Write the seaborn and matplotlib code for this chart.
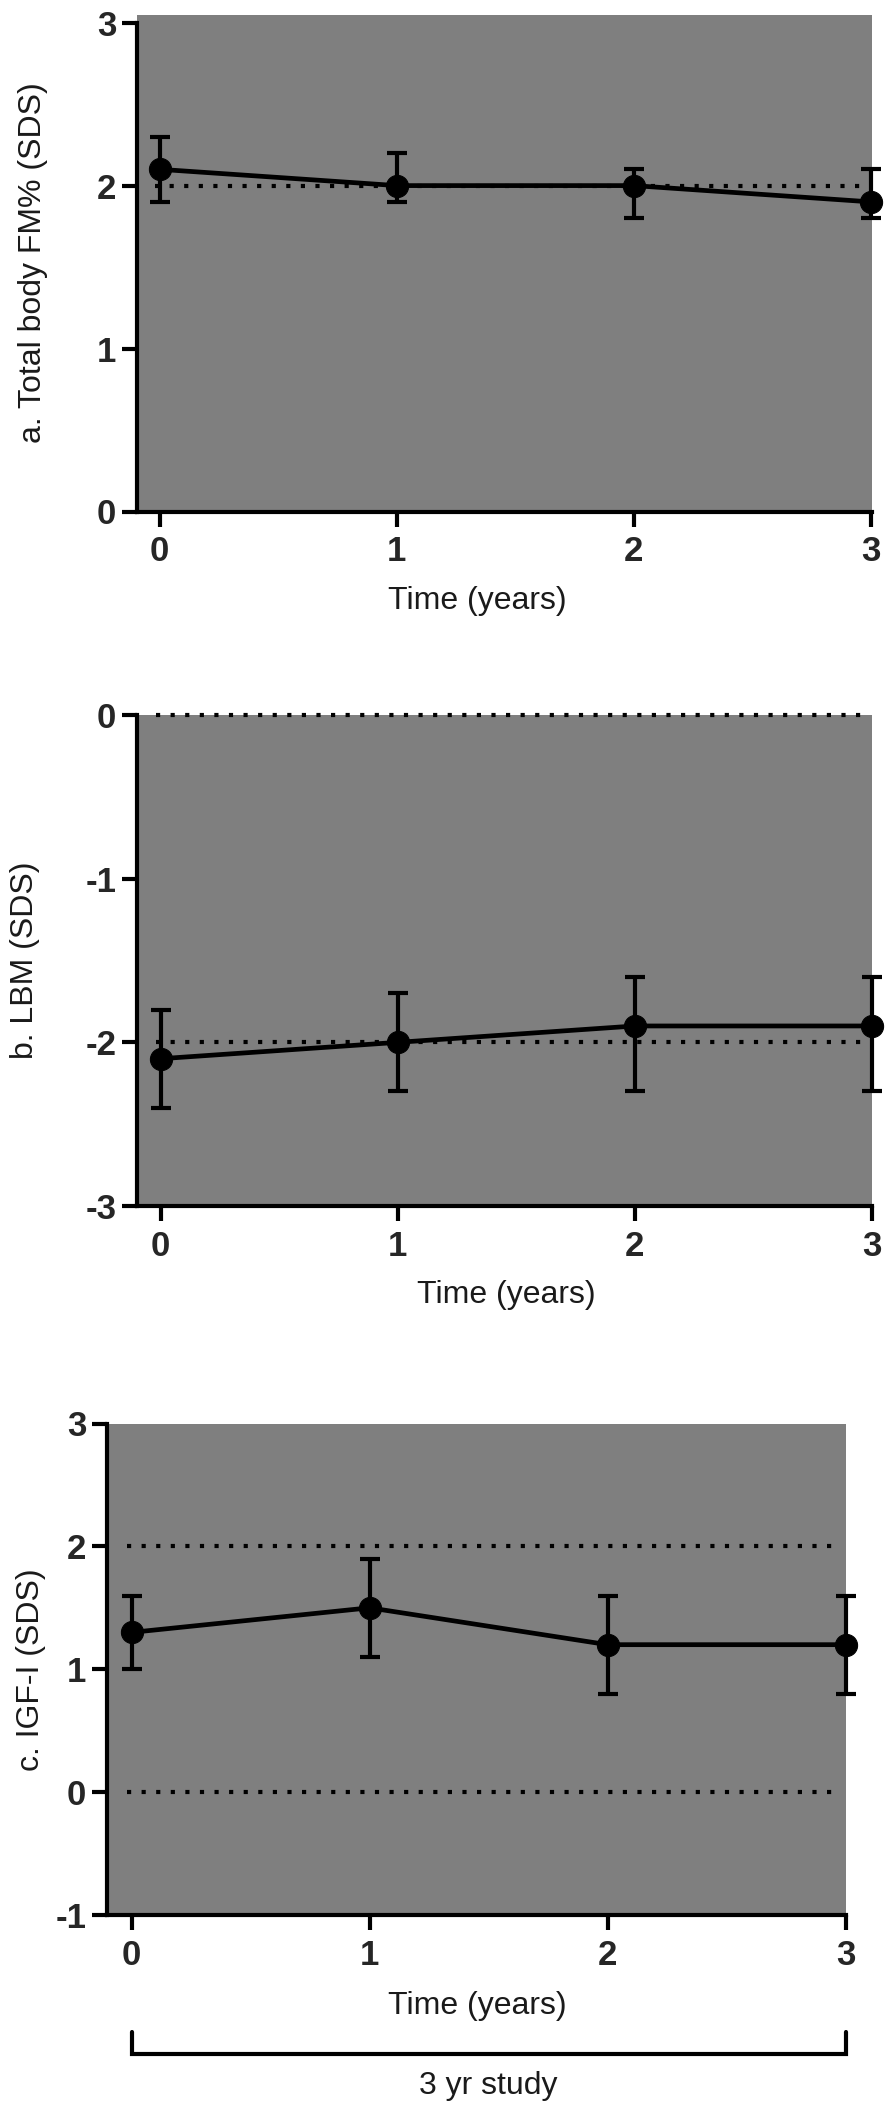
import numpy as np
import pandas as pd
import matplotlib
matplotlib.use("Agg")
import matplotlib.pyplot as plt
import matplotlib.transforms as mtransforms
import seaborn as sns

# data (mean with lower / upper error)
years = [0, 1, 2, 3]

fm_mean = [2.1, 2.0, 2.0, 1.9]
fm_low = [1.9, 1.9, 1.8, 1.8]
fm_high = [2.3, 2.2, 2.1, 2.1]

lbm_mean = [-2.1, -2.0, -1.9, -1.9]
lbm_low = [-2.4, -2.3, -2.3, -2.3]
lbm_high = [-1.8, -1.7, -1.6, -1.6]

igf_mean = [1.3, 1.5, 1.2, 1.2]
igf_low = [1.0, 1.1, 0.8, 0.8]
igf_high = [1.6, 1.9, 1.6, 1.6]

ref_a = [2]
ref_b = [0, -2]
ref_c = [2, 0]

sns.set_theme(style="ticks")
plt.rcParams["font.family"] = ["Liberation Sans", "DejaVu Sans"]

BG = "#7f7f7f"
LW = 3.0
TICK_FS = 25
LABEL_FS = 23


def draw_panel(ax, mean, low, high, refs, ylabel, yticks, ylim, xlim):
    df = pd.DataFrame({"Time": years, "Value": mean})
    ax.set_facecolor(BG)
    for r in refs:
        ax.hlines(r, -0.02, 2.98, colors="black", linestyles=(0, (1, 2.5)),
                  linewidth=3.0, zorder=2, clip_on=False)
    yerr = [np.array(mean) - np.array(low), np.array(high) - np.array(mean)]
    ax.errorbar(years, mean, yerr=yerr, fmt="none", ecolor="black",
                elinewidth=LW, capsize=7, capthick=LW, zorder=3, clip_on=False)
    sns.lineplot(data=df, x="Time", y="Value", ax=ax, color="black",
                 linewidth=3.4, marker="o", markersize=16, markeredgecolor="black",
                 zorder=4, clip_on=False)
    ax.set_xlim(*xlim)
    ax.set_ylim(*ylim)
    ax.set_xticks(years)
    ax.set_yticks(yticks)
    ax.set_yticklabels([str(t) for t in yticks])
    for s in ["top", "right"]:
        ax.spines[s].set_visible(False)
    for s in ["left", "bottom"]:
        ax.spines[s].set_linewidth(LW)
        ax.spines[s].set_color("black")
        ax.spines[s].set_zorder(5)
    ax.spines["left"].set_bounds(yticks[0], yticks[-1])
    ax.tick_params(axis="both", direction="out", length=11, width=LW,
                   color="black", labelsize=TICK_FS)
    ax.tick_params(axis="x", pad=6)
    ax.tick_params(axis="y", pad=4)
    for lab in ax.get_xticklabels() + ax.get_yticklabels():
        lab.set_fontweight("bold")
    ax.set_xlabel("Time (years)", fontsize=LABEL_FS, color="#1a1a1a")
    ax.set_ylabel(ylabel, fontsize=LABEL_FS, color="#1a1a1a")
    ax.grid(False)


fig = plt.figure(figsize=(8.94, 21.08), dpi=100)
W, H = 894, 2108


def add_axes(left_px, right_px, top_px, bottom_px):
    return fig.add_axes([left_px / W, 1 - bottom_px / H,
                         (right_px - left_px) / W, (bottom_px - top_px) / H])


# panel a
ax_a = add_axes(137, 872, 14.5, 511.5)
draw_panel(ax_a, fm_mean, fm_low, fm_high, ref_a, "a. Total body FM% (SDS)",
           [0, 1, 2, 3], (0, 3.05), (-0.095, 3.004))
ax_a.xaxis.set_label_coords(0.4626, -0.150)
ax_a.yaxis.set_label_coords(-0.121, 0.5)

# panel b
ax_b = add_axes(137, 872, 715, 1206)
draw_panel(ax_b, lbm_mean, lbm_low, lbm_high, ref_b, "b. LBM (SDS)",
           [-3, -2, -1, 0], (-3, 0), (-0.1, 3.0))
ax_b.xaxis.set_label_coords(0.502, -0.151)
ax_b.yaxis.set_label_coords(-0.132, 0.5)

# panel c
ax_c = add_axes(107, 845.5, 1423.5, 1915)
draw_panel(ax_c, igf_mean, igf_low, igf_high, ref_c, "c. IGF-I (SDS)",
           [-1, 0, 1, 2, 3], (-1, 3), (-0.103, 3.0))
ax_c.xaxis.set_label_coords(0.501, -0.155)
ax_c.yaxis.set_label_coords(-0.083, 0.5)

# bracket marking the study period under panel c
trans = mtransforms.blended_transform_factory(ax_c.transData, ax_c.transAxes)
ax_c.plot([years[0], years[0], years[-1], years[-1]], [-0.238, -0.283, -0.283, -0.238],
          color="black", linewidth=LW, transform=trans, clip_on=False,
          solid_joinstyle="miter")
ax_c.text(np.mean([years[0], years[-1]]), -0.348, "3 yr study", transform=trans,
          ha="center", va="center", fontsize=LABEL_FS, color="#1a1a1a")

fig.savefig("out.png", dpi=100, facecolor="white")
